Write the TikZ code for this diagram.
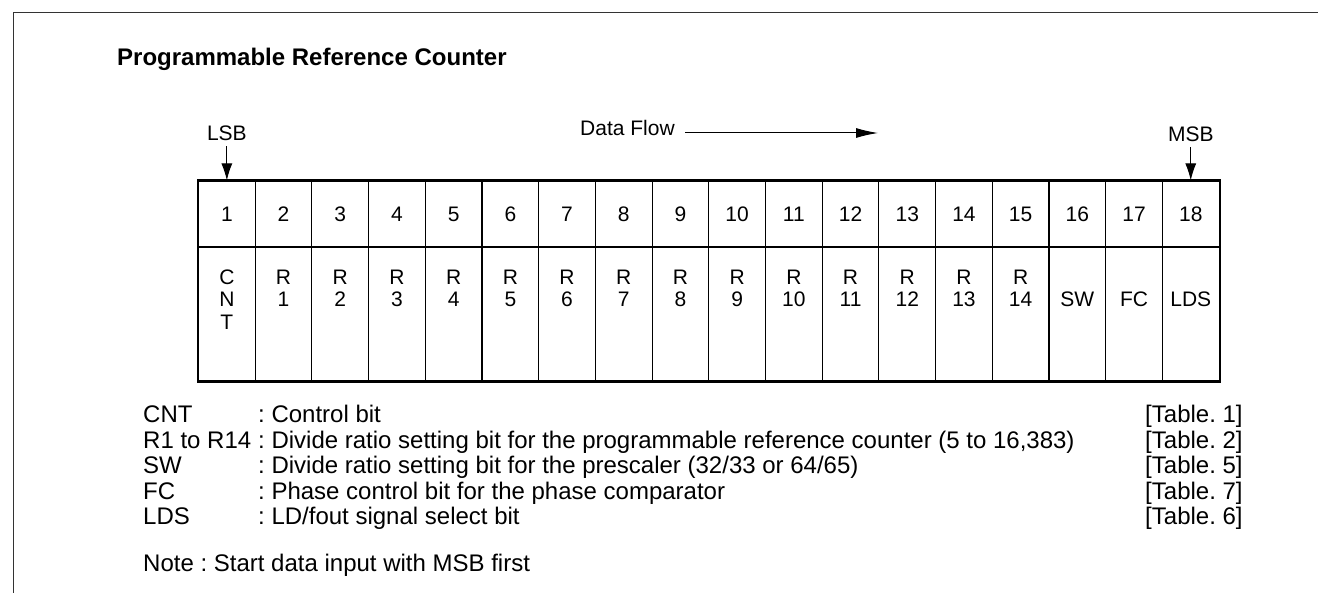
\documentclass[tikz,border=0pt]{standalone}
\usepackage{fontspec}
\setmainfont{Liberation Sans}
\usetikzlibrary{arrows.meta}
\frenchspacing
\begin{document}
\begin{tikzpicture}[x=1pt,y=-1pt,
  frameline/.style={draw=black!80,line width=1.5pt},
  cell/.style={draw,line width=1.1pt,minimum width=56.7pt,inner sep=0pt},
  tbl/.style={font=\fontsize{21}{25}\selectfont,inner sep=0pt,anchor=base},
  lbl/.style={font=\fontsize{21}{25}\selectfont,inner sep=0pt,anchor=base},
  leg/.style={font=\fontsize{24}{29}\selectfont,inner sep=0pt,anchor=base west},
  ptr/.style={-{Latex[length=17pt,width=11pt]},line width=1.1pt},
  flow/.style={-{Latex[length=22pt,width=10pt]},line width=1pt}]
\useasboundingbox (0,0) rectangle (1318,593);
\fill[white] (0,0) rectangle (1318,593);
% frame
\draw[frameline] (1318,12.5) -- (13.5,12.5) -- (13.5,593);
% title
\node[font=\fontsize{24}{29}\selectfont\bfseries,inner sep=0pt,anchor=base west] (title) at (117,66) {Programmable Reference Counter};
% table cells
\foreach \i in {1,...,18}{
  \pgfmathsetmacro{\cx}{198.5+(\i-0.5)*56.7}
  \node[cell,minimum height=66pt] (n\i) at (\cx,214) {};
  \node[cell,minimum height=134pt] (r\i) at (\cx,314) {};
  \node[tbl] (d\i) at (\cx,221.5) {\i};
}
\draw[line width=2.2pt] (n1.north west) rectangle (r18.south east);
% row 2 contents
\node[tbl] (c1a) at (r1|-0,284.5) {C};
\node[tbl] (c1b) at (r1|-0,307) {N};
\node[tbl] (c1c) at (r1|-0,329.5) {T};
\foreach \i in {2,...,15}{
  \pgfmathtruncatemacro{\k}{\i-1}
  \node[tbl] (ra\i) at (r\i|-0,284.5) {R};
  \node[tbl] (rb\i) at (r\i|-0,307) {\k};
}
\node[tbl] (sw) at (r16|-0,307) {SW};
\node[tbl] (fc) at (r17|-0,307) {FC};
\node[tbl] (lds) at (r18|-0,307) {LDS};
% LSB / MSB
\node[lbl] (lsb) at (n1|-0,141) {LSB};
\node[lbl] (msb) at (n18|-0,142) {MSB};
\draw[ptr,shorten <=5pt] (lsb.south) -- (n1.north);
\draw[ptr,shorten <=5pt] (msb.south) -- (n18.north);
% data flow
\node[lbl,anchor=base west] (df) at (580,136) {Data Flow};
\coordinate (dfa) at (685,133);
\coordinate (dfb) at (878,133);
\draw[flow] (dfa) -- (dfb);
% legend
\node[leg] (l1) at (143,423) {CNT};
\node[leg] (l2) at (143,448.5) {R1 to R14};
\node[leg] (l3) at (143,474) {SW};
\node[leg] (l4) at (143,499.5) {FC};
\node[leg] (l5) at (143,525) {LDS};
\node[leg] (t1) at (258,423) {: Control bit};
\node[leg] (t2) at (258,448.5) {: Divide ratio setting bit for the programmable reference counter (5 to 16,383)};
\node[leg] (t3) at (258,474) {: Divide ratio setting bit for the prescaler (32/33 or 64/65)};
\node[leg] (t4) at (258,499.5) {: Phase control bit for the phase comparator};
\node[leg] (t5) at (258,525) {: LD/fout signal select bit};
\node[leg] (k1) at (1145,423) {[Table. 1]};
\node[leg] (k2) at (1145,448.5) {[Table. 2]};
\node[leg] (k3) at (1145,474) {[Table. 5]};
\node[leg] (k4) at (1145,499.5) {[Table. 7]};
\node[leg] (k5) at (1145,525) {[Table. 6]};
\node[leg] (note) at (143,571) {Note : Start data input with MSB first};
\end{tikzpicture}
\end{document}
